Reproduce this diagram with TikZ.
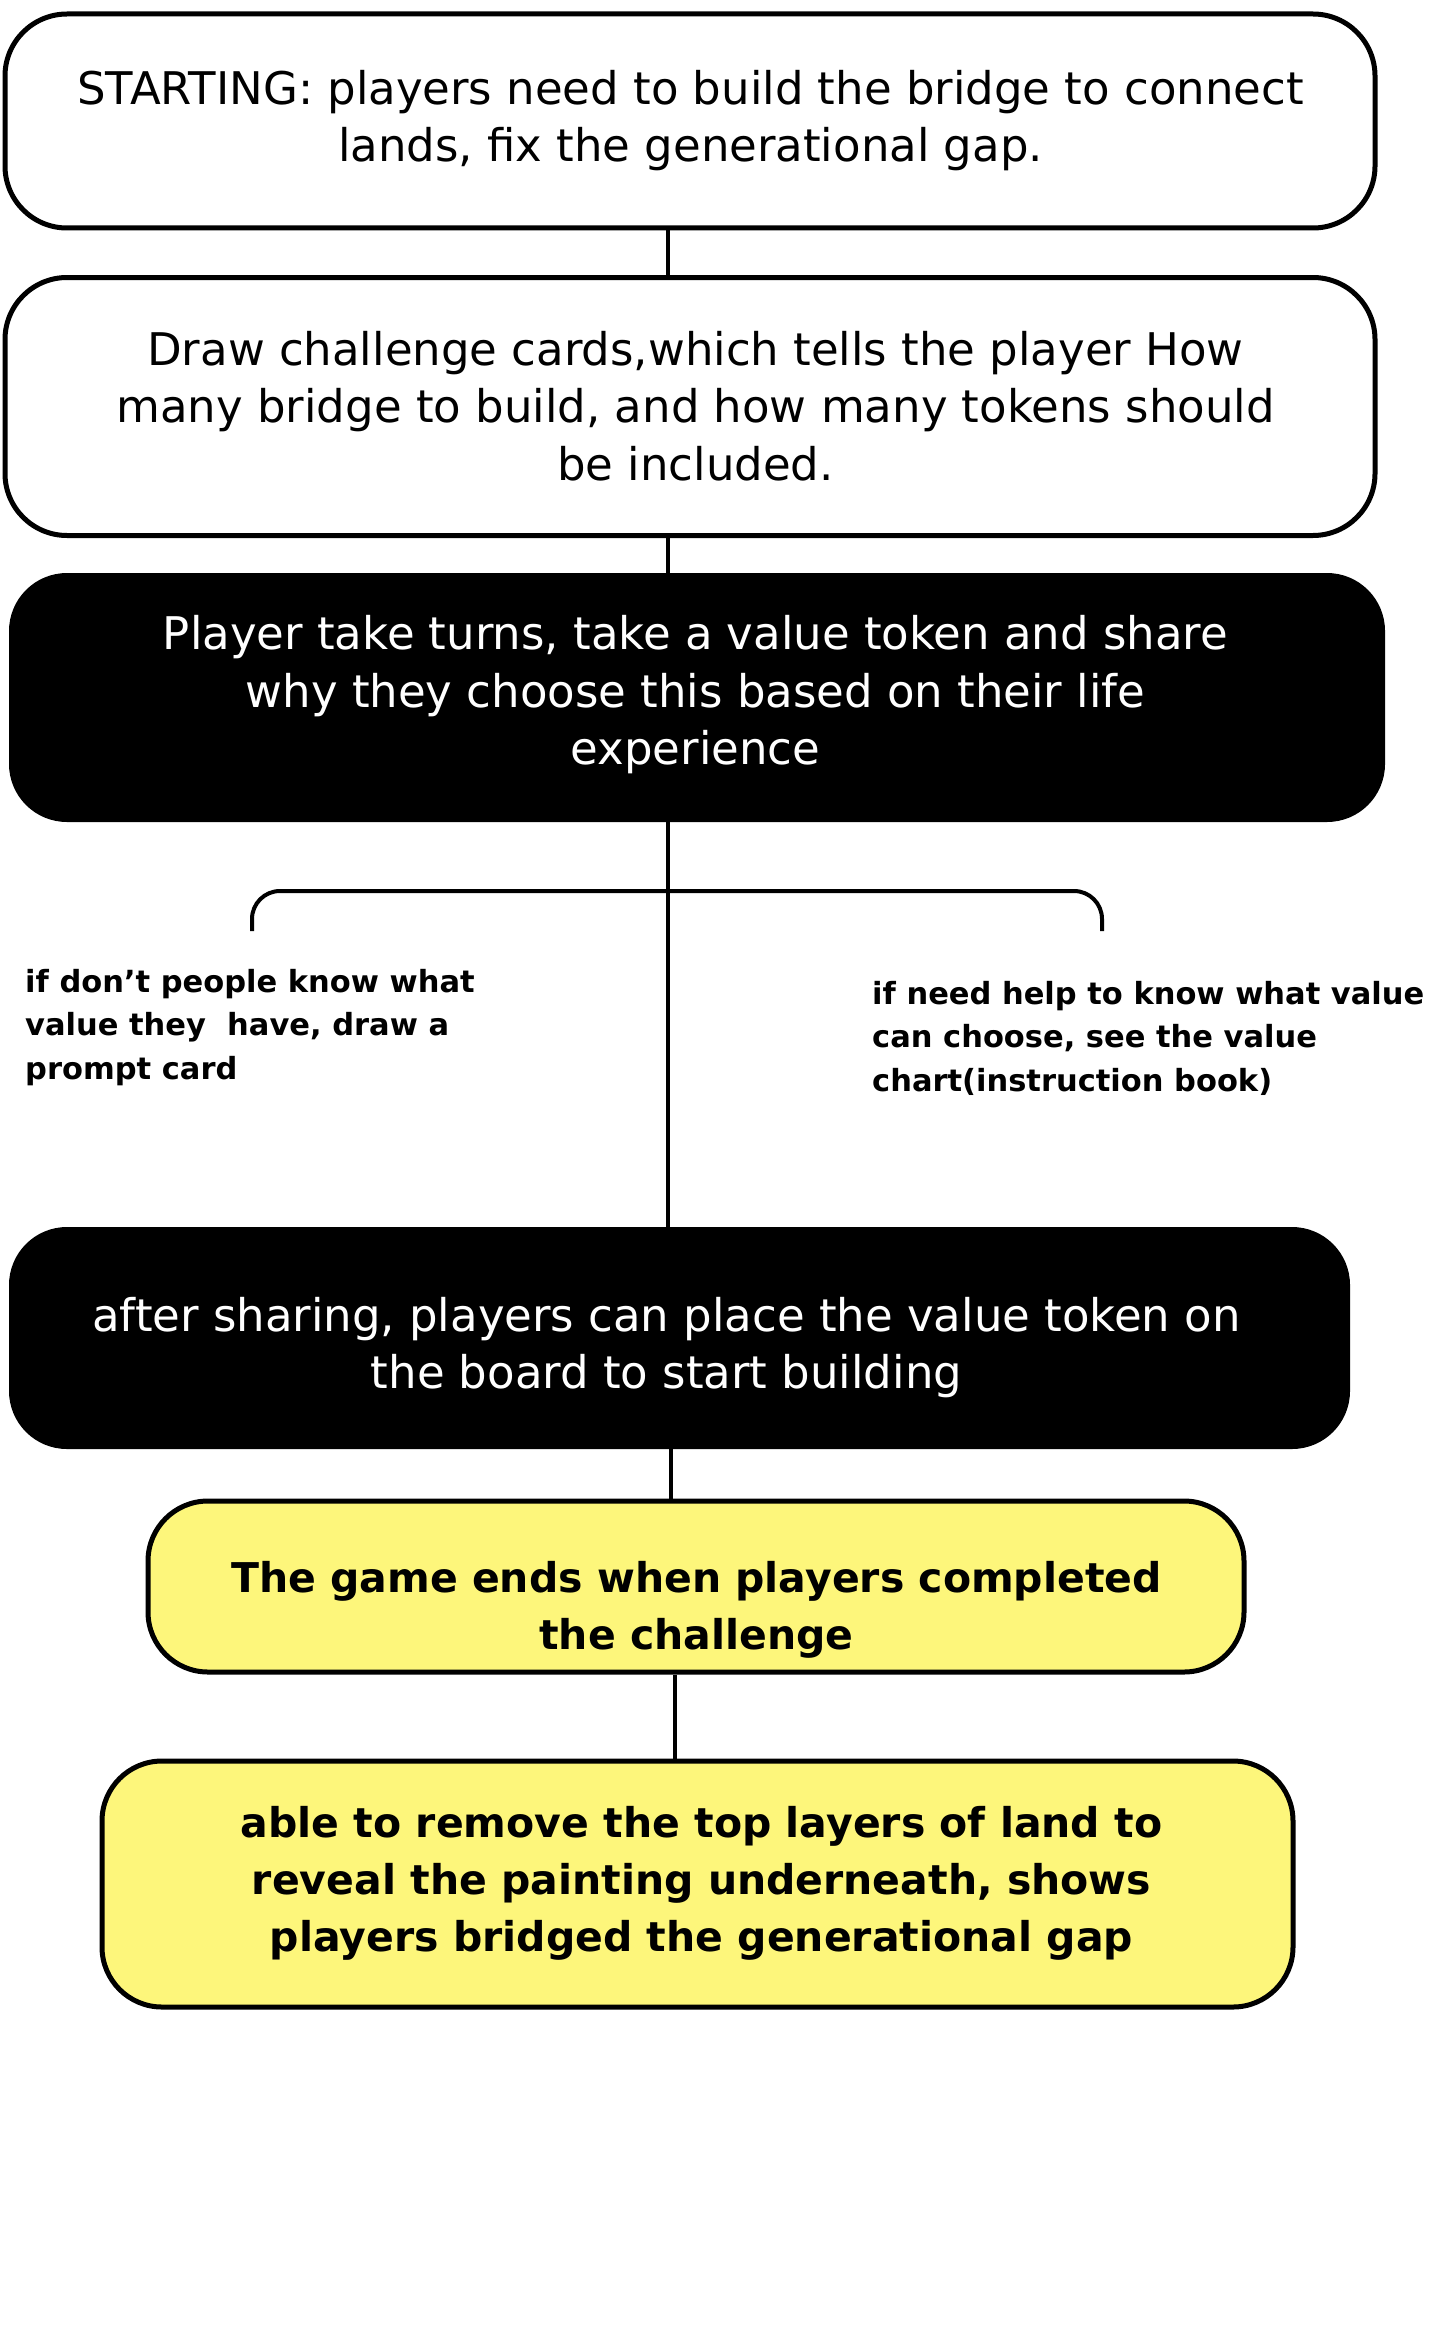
\documentclass[tikz,border=0pt]{standalone}
\usepackage{fontspec}
\setmainfont{DejaVu Sans}
\usepackage{tikz}
\definecolor{cardyellow}{RGB}{253,246,123}
\tikzstyle{stepbox}=[rounded corners=62pt, line width=5pt, draw=black, fill=white]
\tikzstyle{darkbox}=[rounded corners=58pt, fill=black]
\tikzstyle{goldbox}=[rounded corners=60pt, line width=5pt, draw=black, fill=cardyellow]
\tikzstyle{steptext}=[align=center, inner sep=0pt, font=\fontsize{45pt}{57.5pt}\selectfont]
\tikzstyle{goldtext}=[align=center, inner sep=0pt, font=\fontsize{41pt}{57pt}\selectfont\bfseries]
\tikzstyle{hint}=[align=left, anchor=west, inner sep=0pt, font=\fontsize{30.5pt}{43.5pt}\selectfont\bfseries]
\tikzstyle{link}=[line width=3.5pt]

\begin{document}
\begin{tikzpicture}[x=1pt, y=-1pt]

\fill [white] (0,0) rectangle (1440,2333);

%%% Start

\node [stepbox, minimum width=1370pt, minimum height=214pt] (start) at (690,121) {};
\node [steptext] (starttext) at (690.5,120.5)
{STARTING: players need to build the bridge to connect\\
lands, fix the generational gap.};

%%% Challenge cards

\node [stepbox, minimum width=1370pt, minimum height=258pt] (cards) at (690,406.5) {};
\node [steptext] (cardstext) at (695.5,406)
{Draw challenge cards,which tells the player How\\
many bridge to build, and how many tokens should\\
be included.};

%%% Take turns

\node [darkbox, minimum width=1376pt, minimum height=249pt] (turns) at (697,697.5) {};
\node [steptext, text=white] (turnstext) at (695.5,695)
{Player take turns, take a value token and share\\
why they choose this based on their life\\
experience};

%%% Hints

\node [hint] (prompthint) at (25,1027.5)
{if don’t people know what\\
value they\ \ have, draw a\\
prompt card};

\node [hint] (charthint) at (872,1038)
{if need help to know what value\\
can choose, see the value\\
chart(instruction book)};

%%% Place token

\node [darkbox, minimum width=1341pt, minimum height=222pt] (place) at (679.5,1338) {};
\node [steptext, text=white] (placetext) at (666.5,1347.5)
{after sharing, players can place the value token on\\
the board to start building};

%%% Game ends

\node [goldbox, minimum width=1096pt, minimum height=171pt] (ends) at (696,1586.5) {};
\node [goldtext] (endstext) at (696.5,1610)
{The game ends when players completed\\
the challenge};

%%% Reveal

\node [goldbox, minimum width=1191pt, minimum height=246pt] (reveal) at (697.5,1884) {};
\node [goldtext] (revealtext) at (701.5,1883.5)
{able to remove the top layers of land to\\
reveal the painting underneath, shows\\
players bridged the generational gap};

%%% Connectors

\coordinate (spine) at (668,0);
\coordinate (spinelow) at (671,0);
\coordinate (spineend) at (675,0);

\draw [link] (start.south -| spine) -- (cards.north -| spine);
\draw [link] (cards.south -| spine) -- (turns.north -| spine);
\draw [link] (turns.south -| spine) -- (place.north -| spine);
\draw [link] (place.south -| spinelow) -- (ends.north -| spinelow);
\draw [link] (ends.south -| spineend) -- (reveal.north -| spineend);

%%% Fork

\coordinate (forkleft) at (252,931);
\coordinate (forkright) at (1102,931);

\draw [link, line width=4pt, rounded corners=28pt]
(forkleft) -- (forkleft |- 0,891) -- (forkright |- 0,891) -- (forkright);

\end{tikzpicture}
\end{document}
